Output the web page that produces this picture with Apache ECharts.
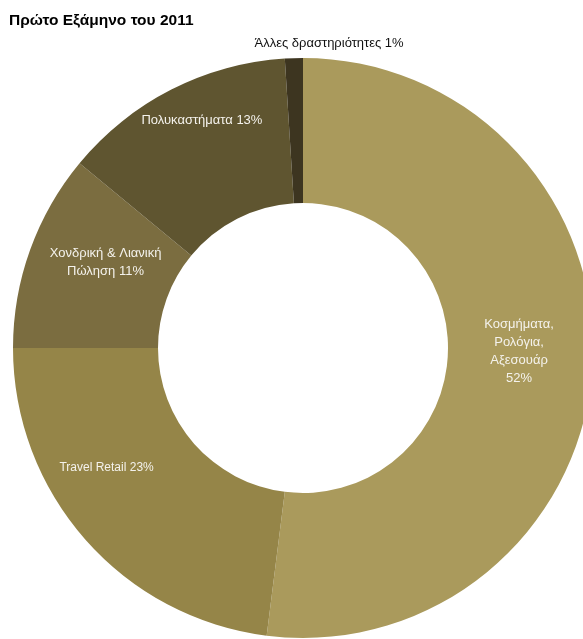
<!DOCTYPE html>
<html>
<head>
<meta charset="utf-8">
<script src="https://cdn.jsdelivr.net/npm/echarts@6/dist/echarts.min.js"></script>
<style>
  html, body { margin: 0; padding: 0; background: #ffffff; }
  #chart { width: 583px; height: 639px; }
</style>
</head>
<body>
<div id="chart"></div>
<script>
// Revenue split by activity, first half of 2011 (percent)
const categories = [
  'Κοσμήματα,\nΡολόγια,\nΑξεσουάρ',
  'Travel Retail',
  'Χονδρική & Λιανική\nΠώληση',
  'Πολυκαστήματα',
  'Άλλες δραστηριότητες'
];
const shares = [52, 23, 11, 13, 1];
const sliceColors = ['#AA9A5C', '#958548', '#7B6D40', '#5F5530', '#3D3520'];
const labelColors = ['#F4F2EC', '#F4F2EC', '#F4F2EC', '#F4F2EC', '#111111'];
const labelSizes = [13, 12, 13, 13, 13];
// label nudges relative to the slice's inside anchor
const labelShift = [[-4, -10], [-31, -26], [10, -11], [-1, -31], [33, -84]];
const labelJoin = ['\n', ' ', ' ', ' ', ' '];

const chart = echarts.init(document.getElementById('chart'), null, { renderer: 'canvas' });

chart.setOption({
  animation: false,
  backgroundColor: '#ffffff',
  title: {
    text: 'Πρώτο Εξάμηνο του 2011',
    left: 4,
    top: 8,
    textStyle: {
      fontFamily: 'Liberation Sans, Arial, sans-serif',
      fontSize: 15.5,
      fontWeight: 'bold',
      color: '#000000'
    }
  },
  series: [{
    type: 'pie',
    center: [303, 348],
    radius: [145, 290],
    startAngle: 90,
    clockwise: true,
    avoidLabelOverlap: false,
    minShowLabelAngle: 0,
    itemStyle: { borderWidth: 0 },
    label: {
      show: true,
      position: 'inside',
      fontFamily: 'Liberation Sans, Arial, sans-serif',
      fontSize: 12,
      lineHeight: 18,
      align: 'center'
    },
    labelLine: { show: false },
    emphasis: { disabled: true },
    labelLayout: function (params) {
      const s = labelShift[params.dataIndex];
      return { dx: s[0], dy: s[1] };
    },
    data: categories.map(function (name, i) {
      return {
        name: name,
        value: shares[i],
        itemStyle: { color: sliceColors[i] },
        label: {
          color: labelColors[i],
          fontSize: labelSizes[i],
          formatter: name + labelJoin[i] + shares[i] + '%'
        }
      };
    })
  }]
});
</script>
</body>
</html>
